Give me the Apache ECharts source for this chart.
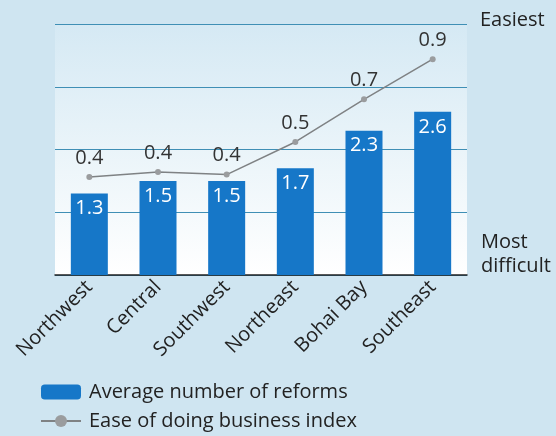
<!DOCTYPE html>
<html>
<head>
<meta charset="utf-8">
<script src="https://cdn.jsdelivr.net/npm/echarts@6/dist/echarts.min.js"></script>
<style>
html,body{margin:0;padding:0;background:#cfe5f1;}
#chart{width:556px;height:436px;}
</style>
</head>
<body>
<div id="chart"></div>
<script>
const categories = ['Northwest', 'Central', 'Southwest', 'Northeast', 'Bohai Bay', 'Southeast'];
const reforms = [1.3, 1.5, 1.5, 1.7, 2.3, 2.6];
const easeIndex = [0.39, 0.41, 0.40, 0.53, 0.70, 0.86];
const barName = 'Average number of reforms';
const lineName = 'Ease of doing business index';
const topLabel = 'Easiest';
const bottomLabel = 'Most\ndifficult';

const FONT = '"Open Sans", "Noto Sans", sans-serif';
const chart = echarts.init(document.getElementById('chart'), null, {renderer: 'canvas'});
chart.setOption({
  backgroundColor: '#cfe5f1',
  animation: false,
  textStyle: {fontFamily: FONT},
  grid: {
    left: 55, right: 89, top: 24, bottom: 161,
    show: true, borderWidth: 0,
    backgroundColor: {
      type: 'linear', x: 0, y: 0, x2: 0, y2: 1,
      colorStops: [{offset: 0, color: '#d5e9f4'}, {offset: 0.5, color: '#eaf4f9'}, {offset: 1, color: '#ffffff'}]
    }
  },
  legend: {
    orient: 'vertical', left: 35, top: 377,
    itemWidth: 40, itemHeight: 15, itemGap: 9,
    data: [barName, {name: lineName, itemStyle: {color: '#9a9c9e'}}],
    textStyle: {fontFamily: FONT, fontSize: 20, color: '#222', padding: [0, 0, 0, 3]}
  },
  xAxis: {
    type: 'category', data: categories,
    axisLine: {show: true, lineStyle: {color: '#222', width: 1.5}},
    axisTick: {show: false},
    axisLabel: {rotate: 45, fontSize: 20, color: '#222', margin: 9, fontFamily: FONT}
  },
  yAxis: [
    {
      type: 'value', min: 0, max: 4, interval: 1,
      axisLine: {show: false}, axisTick: {show: false}, axisLabel: {show: false},
      splitLine: {show: true, lineStyle: {color: '#3f8fb5', width: 1.2}}
    },
    {
      type: 'value', min: 0, max: 1, position: 'right',
      axisLine: {show: false}, axisTick: {show: false}, axisLabel: {show: false},
      splitLine: {show: false}
    }
  ],
  series: [
    {
      name: barName, type: 'bar', data: reforms, yAxisIndex: 0,
      barWidth: 37,
      itemStyle: {color: '#1677c8'},
      label: {show: true, position: 'insideTop', distance: 5, color: '#fff', fontSize: 20, fontFamily: FONT}
    },
    {
      name: lineName, type: 'line', data: easeIndex, yAxisIndex: 1,
      symbol: 'circle', symbolSize: 6,
      lineStyle: {color: '#7f8284', width: 1.5},
      itemStyle: {color: '#9a9c9e'},
      label: {show: true, position: 'top', distance: 6, color: '#333', fontSize: 20, fontFamily: FONT,
        formatter: p => p.value.toFixed(1)}
    }
  ],
  graphic: [
    {type: 'text', left: 480, top: 10, style: {text: topLabel, fontSize: 20, fill: '#222', fontFamily: FONT}},
    {type: 'text', left: 481, top: 230, style: {text: bottomLabel, fontSize: 20, lineHeight: 24, fill: '#222', fontFamily: FONT}}
  ]
});
</script>
</body>
</html>
